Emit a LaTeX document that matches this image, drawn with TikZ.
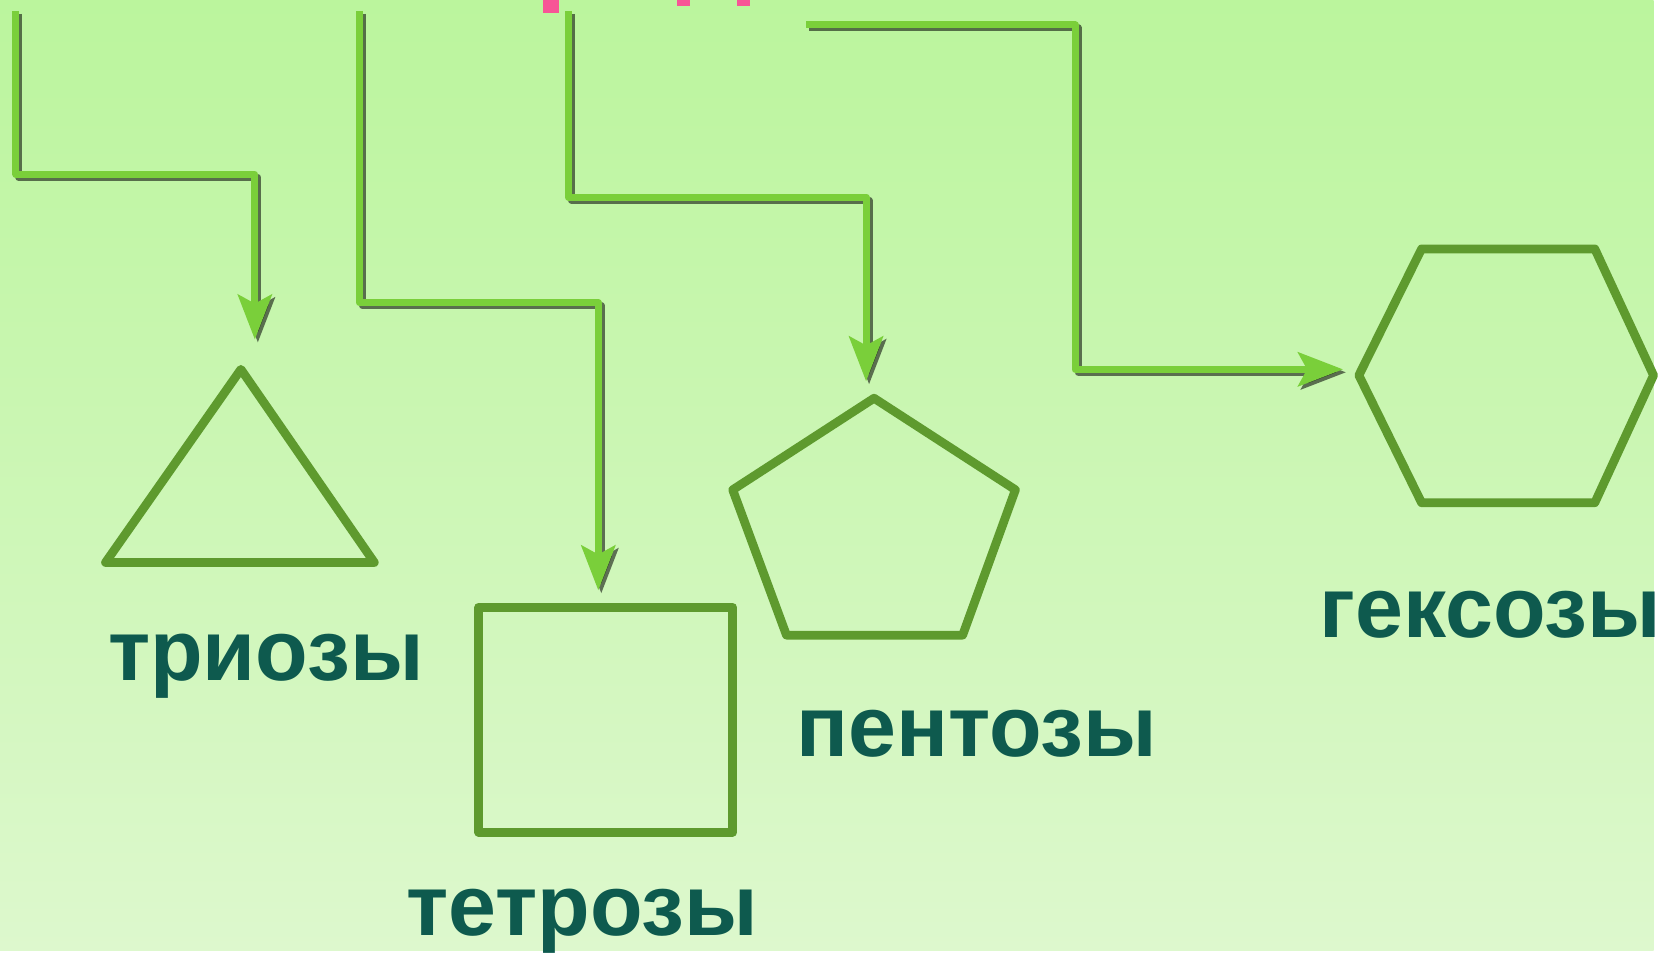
\documentclass[tikz,border=0pt]{standalone}
\usepackage{fontspec}
\setmainfont{Liberation Sans}
\usetikzlibrary{arrows.meta}

\definecolor{bgtopcolor}{RGB}{187,245,157}
\definecolor{bgbottomcolor}{RGB}{221,248,205}
\definecolor{pipecolor}{RGB}{122,207,58}
\definecolor{outlinecolor}{RGB}{94,154,46}
\definecolor{captioncolor}{RGB}{14,90,78}
\definecolor{markcolor}{RGB}{247,85,150}
\tikzset{pipe/.style={line width=2pt, color=pipecolor, line join=round, -{Stealth[length=0.45cm, width=0.34cm, inset=0.09cm]}},%
    pipeshadow/.style={pipe, color=black, opacity=0.55, transform canvas={xshift=0.03cm, yshift=-0.03cm}},%
    outline/.style={line width=2.5pt, color=outlinecolor, line join=round},%
    caption/.style={anchor=base, inner sep=0pt, text=captioncolor, font=\fontsize{24.6pt}{29pt}\selectfont\bfseries}%
}

\begin{document}
\begin{tikzpicture}[x=0.01cm, y=-0.01cm]
    \begin{scope} %background and cut-off title
        \shade[top color=bgtopcolor, bottom color=bgbottomcolor] (0,0) rectangle (1661,955);
        \useasboundingbox (0,0) rectangle (1661,955);
        \foreach \xa/\xb/\yb in {545/562/13, 680/693/6, 740/753/6}
            \fill[markcolor] (\xa,0) rectangle (\xb,\yb);
    \end{scope}
    \begin{scope} %pipe ends and bends
        \foreach \name/\xpos/\ypos in {%
                tristart/16/11, tribend/16/175, trielbow/256/175, trihead/256/341,
                tetstart/361/11, tetbend/361/304, tetelbow/601/304, tethead/601/593,
                penstart/571/11, penbend/571/198, penelbow/870/198, penhead/870/383,
                hexstart/810/25, hexbend/1080/25, hexelbow/1080/371, hexhead/1349/371
            } \coordinate (\name) at (\xpos, \ypos);
    \end{scope}
    \begin{scope} %draw shapes
        \draw[outline] (106,565) -- (242,371) -- (376,565) -- cycle;
        \draw[outline] (481,610) rectangle (736,836);
        \draw[outline] (878,400) -- (1020,492) -- (967,638) -- (790,638) -- (736,492) -- cycle;
        \draw[outline] (1365,377) -- (1428,250) -- (1602,250) -- (1661,377) -- (1602,505) -- (1428,505) -- cycle;
    \end{scope}
    \begin{scope} %draw pipes
        \foreach \shp in {tri, tet, pen, hex} {
            \draw[pipeshadow] (\shp start) -- (\shp bend) -- (\shp elbow) -- (\shp head);
            \draw[pipe] (\shp start) -- (\shp bend) -- (\shp elbow) -- (\shp head);
        }
    \end{scope}
    \begin{scope} %add labels
        \foreach \nodename/\xpos/\ypos/\labelcontent in {%
                tricap/267/684/{триозы},
                tetcap/585/940/{тетрозы},
                pencap/981/760/{пентозы},
                hexcap/1497/640/{гексозы}
            } \node[caption] (\nodename) at (\xpos, \ypos) {\labelcontent};
    \end{scope}
\end{tikzpicture}
\end{document}
